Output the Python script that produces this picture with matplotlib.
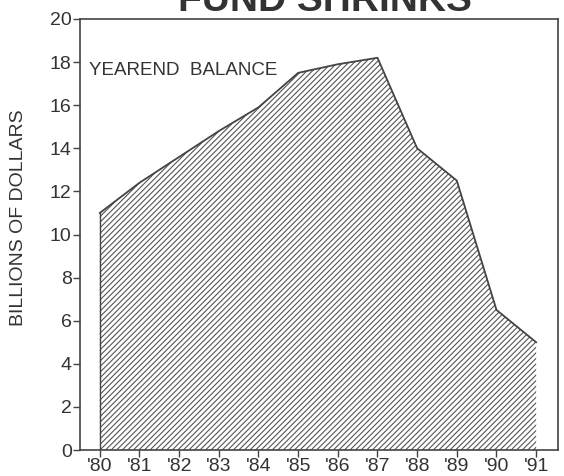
import matplotlib
matplotlib.use("Agg")
import matplotlib.pyplot as plt

years = ["'80", "'81", "'82", "'83", "'84", "'85", "'86", "'87", "'88", "'89", "'90", "'91"]
balance = [11.0, 12.4, 13.6, 14.8, 15.9, 17.5, 17.9, 18.2, 14.0, 12.5, 6.5, 5.0]
yticks = [0, 2, 4, 6, 8, 10, 12, 14, 16, 18, 20]

plt.rcParams['font.family'] = ['Liberation Sans', 'DejaVu Sans']
plt.rcParams['hatch.color'] = '#555555'
plt.rcParams['hatch.linewidth'] = 0.8

ink = '#444444'
fig = plt.figure(figsize=(5.64, 4.76), dpi=100)
ax = fig.add_axes([0.1418, 0.0546, 0.8475, 0.9055])

x = list(range(len(years)))
ax.fill_between(x, 0, balance, facecolor='white', edgecolor='none', hatch='//////')
ax.plot(x, balance, color=ink, lw=1.3)
ax.plot([x[0], x[0]], [0, balance[0]], color=ink, lw=1.0)

ax.set_xlim(-0.5, 11.55)
ax.set_ylim(0, 20)
ax.set_xticks(x)
ax.set_xticklabels(years)
ax.set_yticks(yticks)
ax.tick_params(direction='out', length=5, width=1.0, color=ink, labelcolor='#333333', labelsize=14, pad=1)
for s in ax.spines.values():
    s.set_color(ink)
    s.set_linewidth(1.2)

ax.set_ylabel('BILLIONS OF DOLLARS', fontsize=14, color='#333333')
ax.yaxis.set_label_coords(-0.11, 0.54)
ax.text(0.018, 17.6, 'YEAREND  BALANCE', transform=ax.get_yaxis_transform(),
        fontsize=13.5, color='#333333', ha='left', va='center')
fig.text(0.577, 1.035, 'FUND SHRINKS', fontsize=28, fontweight='bold', color='#333333',
         ha='center', va='top')

fig.savefig('out.png', dpi=100)
